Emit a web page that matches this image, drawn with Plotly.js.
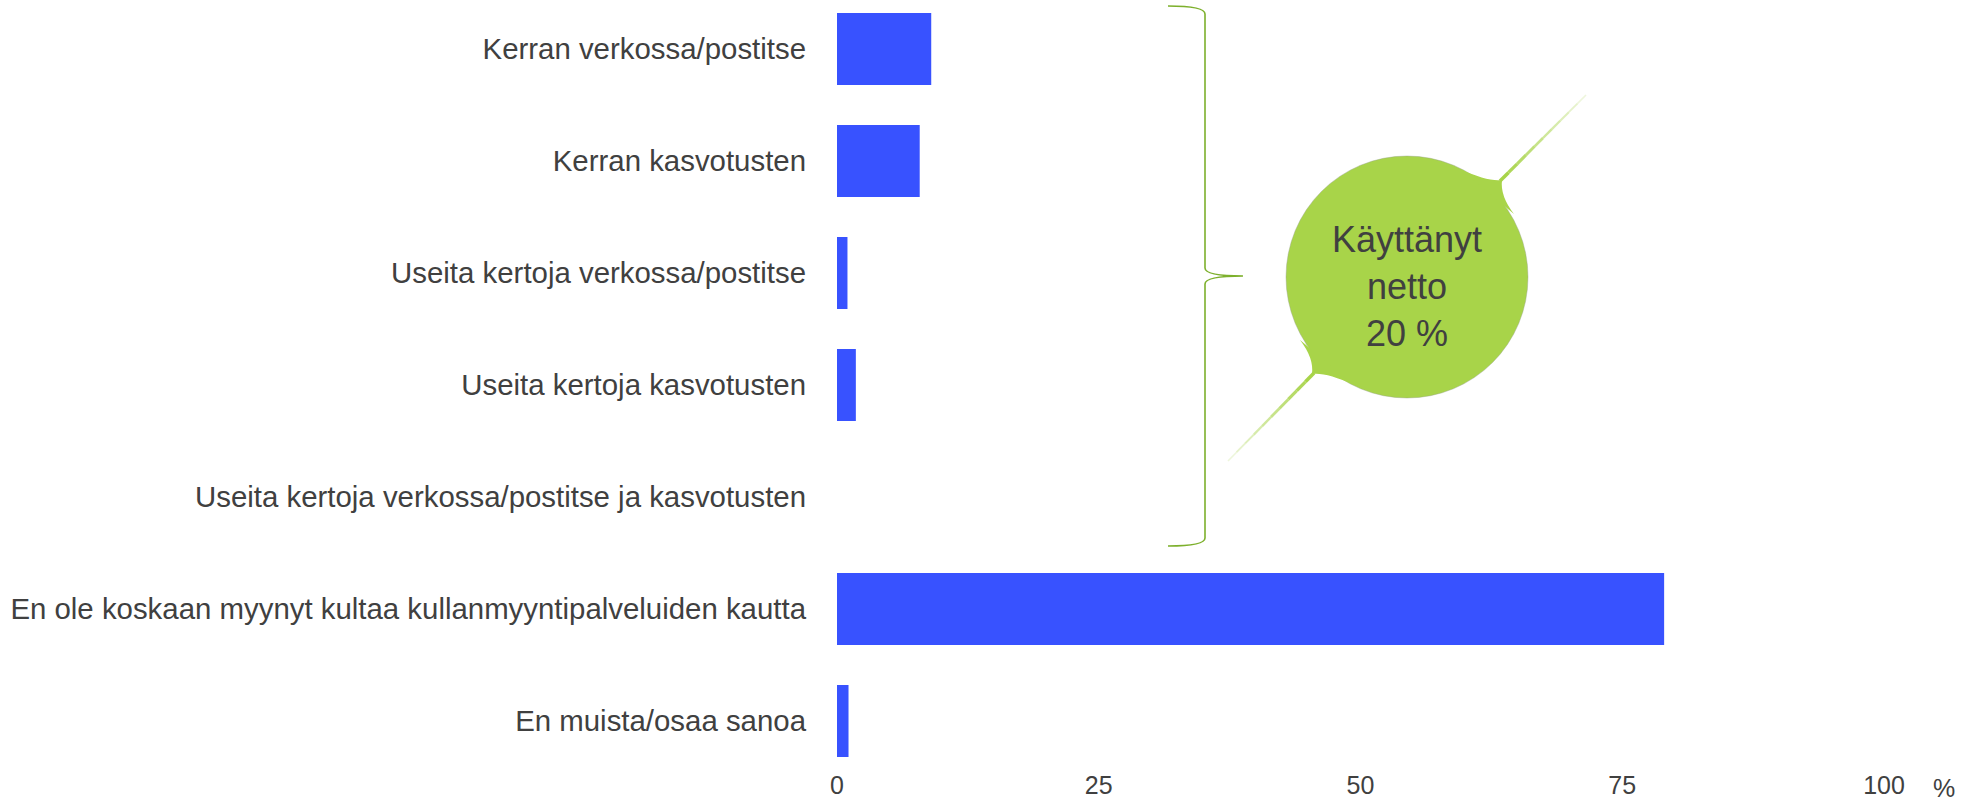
<!DOCTYPE html>
<html>
<head>
<meta charset="utf-8">
<script src="https://cdn.plot.ly/plotly-3.0.1.min.js"></script>
<style>html,body{margin:0;padding:0;background:#fff;}#chart{width:1967px;height:804px;}</style>
</head>
<body>
<div id="chart"></div>
<script>
const categories = [
  "Kerran verkossa/postitse",
  "Kerran kasvotusten",
  "Useita kertoja verkossa/postitse",
  "Useita kertoja kasvotusten",
  "Useita kertoja verkossa/postitse ja kasvotusten",
  "En ole koskaan myynyt kultaa kullanmyyntipalveluiden kautta",
  "En muista/osaa sanoa"
];
const values = [9.0, 7.9, 1.0, 1.8, 0, 79.0, 1.1];
const xTicks = [0, 25, 50, 75, 100];
const bubbleLines = ["Käyttänyt", "netto", "20 %"];
const unitLabel = "%";

const W = 1967, H = 804;
const L = 837, R = 83, T = 0, B = 39;
const PW = W - L - R, PH = H - T - B;
const px = X => (X - L) / PW;
const py = Y => 1 - (Y - T) / PH;
const P = (X, Y) => px(X).toFixed(5) + "," + py(Y).toFixed(5);

const green = "#A8D449";
const braceGreen = "#7DB02C";
const textCol = "#404040";
const font = '"Liberation Sans", Arial, Helvetica, sans-serif';

const shapes = [];
// brace
shapes.push({
  type: "path", xref: "paper", yref: "paper",
  path: "M" + P(1168, 6) + " Q" + P(1205, 6) + " " + P(1205, 14) +
        " L" + P(1205, 268) + " Q" + P(1205, 276) + " " + P(1243, 276) +
        " Q" + P(1205, 276) + " " + P(1205, 284) +
        " L" + P(1205, 538) + " Q" + P(1205, 546) + " " + P(1168, 546),
  line: {color: braceGreen, width: 1.6}
});
// needle segments with fading ends
function needle(x0, y0, x1, y1, n, wStart) {
  for (let i = 0; i < n; i++) {
    const a = i / n, b = (i + 1) / n;
    shapes.push({
      type: "line", xref: "paper", yref: "paper",
      x0: px(x0 + (x1 - x0) * a), y0: py(y0 + (y1 - y0) * a),
      x1: px(x0 + (x1 - x0) * b), y1: py(y0 + (y1 - y0) * b),
      line: {color: green, width: Math.max(1, wStart * (1 - a * 0.6))},
      opacity: 1 - a * 0.9
    });
  }
}
needle(1500, 181, 1586, 95, 10, 3.5);
needle(1314, 373, 1228, 461, 10, 3.5);
// bubble
shapes.push({
  type: "circle", xref: "paper", yref: "paper",
  x0: px(1286), x1: px(1528), y0: py(156), y1: py(398),
  fillcolor: green, line: {color: "rgba(150,160,140,0.5)", width: 0.8}
});
// fillets
shapes.push({
  type: "path", xref: "paper", yref: "paper",
  path: "M" + P(1460, 169) + " Q" + P(1488, 182) + " " + P(1502, 180) +
        " Q" + P(1500, 196) + " " + P(1514, 214) + " Z",
  fillcolor: green, line: {width: 0}
});
shapes.push({
  type: "path", xref: "paper", yref: "paper",
  path: "M" + P(1354, 385) + " Q" + P(1326, 372) + " " + P(1312, 374) +
        " Q" + P(1314, 358) + " " + P(1300, 340) + " Z",
  fillcolor: green, line: {width: 0}
});

const annotations = [
  {
    xref: "paper", yref: "paper", x: px(1944), y: py(286),
    text: "", showarrow: false, visible: false
  },
  {
    xref: "paper", yref: "paper", x: px(1407), y: py(286),
    text: bubbleLines.join("<br>"), showarrow: false,
    font: {family: font, size: 36, color: textCol},
    xanchor: "center", yanchor: "middle", align: "center"
  },
  {
    xref: "paper", yref: "paper", x: px(1944), y: py(803),
    text: unitLabel, showarrow: false,
    font: {family: font, size: 25, color: textCol},
    xanchor: "center", yanchor: "bottom", borderpad: 0
  }
];

const trace = {
  type: "bar", orientation: "h",
  y: categories, x: values,
  marker: {color: "#3852FF"},
  hoverinfo: "x+y"
};

const layout = {
  width: W, height: H,
  margin: {l: L, r: R, t: T, b: B, pad: 0},
  paper_bgcolor: "#fff", plot_bgcolor: "#fff",
  showlegend: false,
  bargap: 0.357,
  font: {family: font, color: textCol},
  xaxis: {
    range: [0, 100], tickvals: xTicks, ticktext: xTicks.map(String),
    showgrid: false, zeroline: false, showline: false, ticks: "",
    ticklabelstandoff: 3,
    tickfont: {family: font, size: 25, color: textCol}
  },
  yaxis: {
    type: "category", categoryorder: "array", categoryarray: categories,
    range: [6 + (H - B - 721) / 112, -49 / 112], autorange: false,
    showgrid: false, zeroline: false, showline: false, ticks: "",
    ticklabelstandoff: 30,
    tickfont: {family: font, size: 29.4, color: textCol}
  },
  shapes: shapes,
  annotations: annotations
};

Plotly.newPlot("chart", [trace], layout, {displayModeBar: false, staticPlot: true});
</script>
</body>
</html>
